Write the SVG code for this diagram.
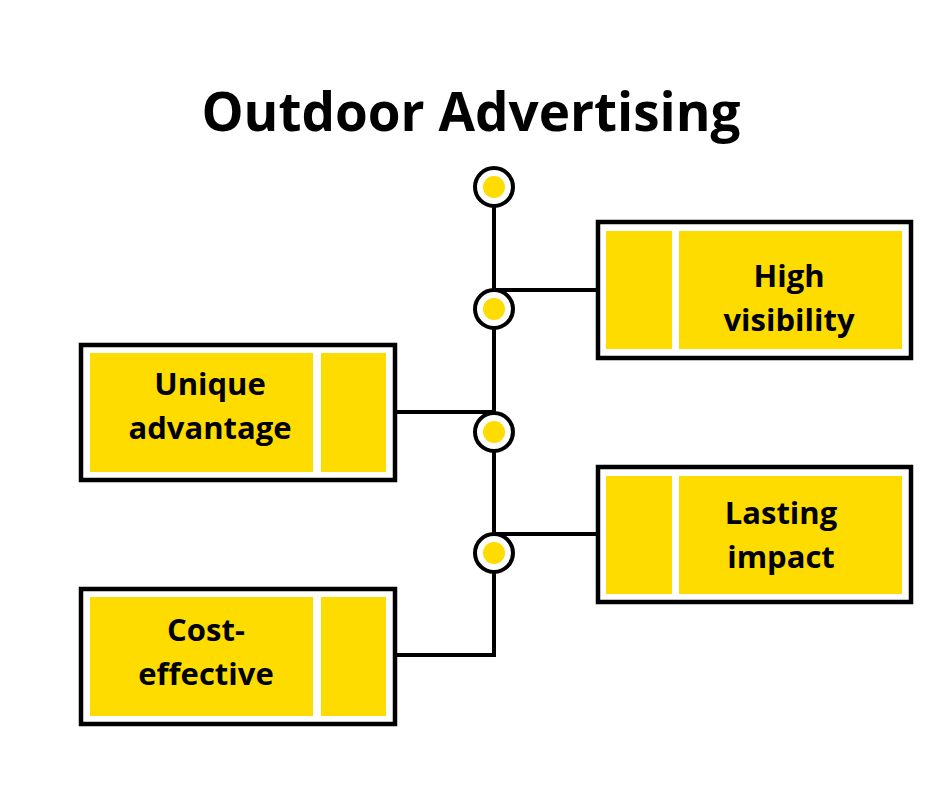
<svg xmlns="http://www.w3.org/2000/svg" width="940" height="788" viewBox="0 0 940 788">
<style>
.frame{fill:#fff;stroke:#000;stroke-width:4.5}
.y{fill:#FFDC00}
.lbl{font-family:"Open Sans","Noto Sans",sans-serif;font-weight:700;font-size:31px;fill:#000;text-anchor:middle}
.title{font-family:"Open Sans","Noto Sans",sans-serif;font-weight:700;font-size:53px;fill:#000;text-anchor:middle}
.ln{fill:none;stroke:#000;stroke-width:4}
.dot-o{fill:#fff;stroke:#000;stroke-width:4}
</style>
<rect width="940" height="788" fill="#fff"/>
<text class="title" x="471" y="131">Outdoor Advertising</text>
<g id="connectors">
<path class="ln" d="M494 186 V655 H397"/>
<path class="ln" d="M494 290 H598"/>
<path class="ln" d="M494 412 H397"/>
<path class="ln" d="M494 534 H598"/>
</g>
<g id="dots">
<g id="dot1"><circle class="dot-o" cx="494" cy="187" r="19"/><circle class="y" cx="494" cy="187" r="11"/></g>
<g id="dot2"><circle class="dot-o" cx="494" cy="309" r="19"/><circle class="y" cx="494" cy="309" r="11"/></g>
<g id="dot3"><circle class="dot-o" cx="494" cy="432" r="19"/><circle class="y" cx="494" cy="432" r="11"/></g>
<g id="dot4"><circle class="dot-o" cx="494" cy="553" r="19"/><circle class="y" cx="494" cy="553" r="11"/></g>
</g>
<g id="high-visibility">
<rect class="frame" x="598" y="222" width="313" height="136"/>
<rect class="y" x="606" y="231" width="66" height="118"/>
<rect class="y" x="679" y="231" width="223" height="118"/>
<text class="lbl" x="789" y="287">High</text>
<text class="lbl" x="789" y="331">visibility</text>
</g>
<g id="unique-advantage">
<rect class="frame" x="81" y="345" width="314" height="135"/>
<rect class="y" x="90" y="353" width="223" height="119"/>
<rect class="y" x="321" y="353" width="65" height="119"/>
<text class="lbl" x="210" y="395">Unique</text>
<text class="lbl" x="210" y="439">advantage</text>
</g>
<g id="lasting-impact">
<rect class="frame" x="598" y="467" width="313" height="135"/>
<rect class="y" x="606" y="476" width="66" height="118"/>
<rect class="y" x="679" y="476" width="223" height="118"/>
<text class="lbl" x="781" y="524">Lasting</text>
<text class="lbl" x="781" y="568">impact</text>
</g>
<g id="cost-effective">
<rect class="frame" x="81" y="589" width="314" height="135"/>
<rect class="y" x="90" y="597" width="223" height="119"/>
<rect class="y" x="321" y="597" width="65" height="119"/>
<text class="lbl" x="206" y="641">Cost-</text>
<text class="lbl" x="206" y="685">effective</text>
</g>
</svg>
